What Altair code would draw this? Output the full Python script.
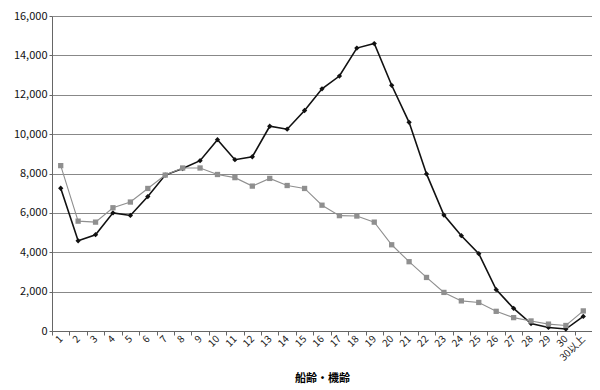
import altair as alt
import pandas as pd

categories = [str(i) for i in range(1, 31)] + ["30以上"]
ships = [7250, 4580, 4890, 6000, 5870, 6830, 7920, 8250, 8650, 9720,
         8700, 8850, 10400, 10250, 11200, 12300, 12950, 14370, 14600, 12480,
         10600, 7980, 5890, 4840, 3930, 2100, 1150, 380, 180, 100, 740]
units = [8400, 5580, 5530, 6260, 6550, 7240, 7920, 8280, 8280, 7950,
         7790, 7360, 7750, 7390, 7240, 6390, 5860, 5840, 5530, 4380,
         3520, 2720, 1960, 1530, 1450, 1000, 680, 510, 350, 280, 1020]
series_names = ["引受隻数", "引受台数"]
y_ticks = list(range(0, 16001, 2000))

rows = []
for c, a, b in zip(categories, ships, units):
    rows.append({"cat": c, "series": series_names[0], "value": a})
    rows.append({"cat": c, "series": series_names[1], "value": b})
df = pd.DataFrame(rows)

FONT = "Noto Sans CJK JP"
colors = ["#111111", "#8f8f8f"]

x = alt.X("cat:N", sort=categories, title="船齢・機齢",
          axis=alt.Axis(labelAngle=-45, labelAlign="right", labelBaseline="middle",
                        labelPadding=2, tickBand="extent", tickSize=4, tickColor="#666",
                        domainColor="#666", titleFontWeight="bold", titleFontSize=11,
                        titlePadding=10, labelFontSize=10, labelColor="#222"))
y = alt.Y("value:Q", title=None,
          scale=alt.Scale(domain=[0, 16000], nice=False),
          axis=alt.Axis(values=y_ticks, format=",d", grid=True, gridColor="#888",
                        gridWidth=1, tickSize=3, tickColor="#666", domainColor="#666",
                        labelFontSize=11, labelColor="#111", labelPadding=2))

base = alt.Chart(df).encode(x=x, y=y)

lines = base.mark_line().encode(
    stroke=alt.Stroke("series:N", scale=alt.Scale(domain=series_names, range=colors), legend=None),
    strokeWidth=alt.StrokeWidth("series:N", scale=alt.Scale(domain=series_names, range=[1.6, 1.1]), legend=None),
)


def leg():
    return alt.Legend(title=None, orient="none", legendX=52, legendY=340,
                      strokeColor="#222", fillColor="white", padding=5, rowPadding=2,
                      labelFontSize=11, labelFont=FONT, symbolSize=40)


points = base.mark_point(filled=True, size=28, opacity=1).encode(
    color=alt.Color("series:N", scale=alt.Scale(domain=series_names, range=colors), legend=leg()),
    shape=alt.Shape("series:N", scale=alt.Scale(domain=series_names, range=["diamond", "square"]),
                    legend=leg()),
)

chart = alt.layer(lines, points).properties(
    width=540, height=315,
    autosize=alt.AutoSizeParams(type="none"),
    padding={"left": 44, "top": 8, "right": 0, "bottom": 58},
    background="white",
).configure_view(
    fill="#ececec", stroke="#888", strokeWidth=1
).configure(font=FONT)

chart.save("out.html", embed_options={"renderer": "svg", "actions": False})
